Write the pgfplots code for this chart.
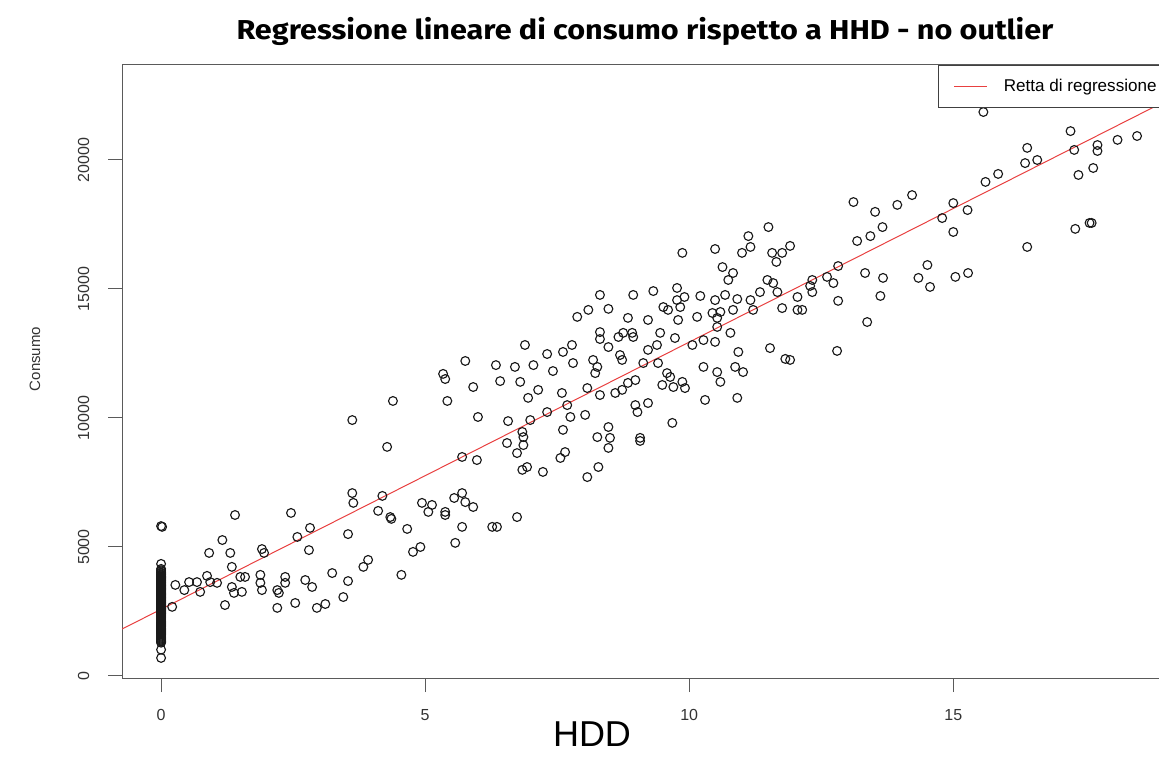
\documentclass[border=0pt]{standalone}
\usepackage{fontspec}
\setmainfont{Liberation Sans}
\newfontfamily\titlefont{Fira Sans}[FakeStretch=1.12]
\usepackage{pgfplots}
\pgfplotsset{compat=1.18}
\definecolor{axgray}{RGB}{90,90,90}
\definecolor{rline}{RGB}{232,64,64}

% HDD vs consumo
\pgfplotstableread{
x y
0 5810
0.02 5780
0 4345
0 4150
0 4100
0 4060
0 4010
0 3980
0 3940
0 3910
0 3875
0 3850
0 3825
0 3800
0 3775
0 3750
0 3725
0 3700
0 3675
0 3650
0 3625
0 3600
0 3575
0 3550
0 3525
0 3500
0 3475
0 3450
0 3425
0 3400
0 3375
0 3350
0 3325
0 3300
0 3275
0 3250
0 3225
0 3200
0 3175
0 3150
0 3125
0 3100
0 3075
0 3050
0 3025
0 3000
0 2975
0 2950
0 2925
0 2900
0 2875
0 2850
0 2825
0 2800
0 2775
0 2750
0 2725
0 2700
0 2675
0 2650
0 2625
0 2600
0 2575
0 2550
0 2525
0 2500
0 2475
0 2450
0 2425
0 2400
0 2360
0 2320
0 2280
0 2240
0 2200
0 2160
0 2120
0 2080
0 2040
0 2000
0 1960
0 1920
0 1880
0 1840
0 1800
0 1760
0 1720
0 1680
0 1640
0 1600
0 1560
0 1520
0 1480
0 1440
0 1400
0 1360
0 1330
0 1290
0 1020
0 700
0.21 2680
1.40 6240
2.46 6320
1.16 5270
0.91 4770
1.31 4770
1.91 4920
1.95 4770
2.58 5390
2.82 5740
2.80 4880
1.34 4230
0.27 3530
0.44 3330
0.53 3640
0.68 3640
0.87 3880
0.93 3640
1.06 3610
0.74 3260
1.34 3450
1.38 3220
1.53 3260
1.50 3840
1.59 3840
1.88 3920
1.88 3610
1.91 3330
2.20 3330
2.23 3220
2.35 3840
2.35 3610
2.73 3720
2.86 3450
3.24 3990
1.21 2750
2.20 2640
2.54 2830
2.95 2640
3.11 2790
6.89 12830
7.31 12480
5.76 12210
6.34 12050
6.70 11980
7.05 12050
7.42 11820
5.34 11710
5.38 11510
6.42 11430
6.80 11400
5.91 11200
7.14 11090
6.95 10780
4.39 10660
5.42 10660
6.00 10040
6.57 9880
6.99 9920
7.31 10230
3.62 9920
6.84 9460
6.86 9260
6.55 9030
6.86 8950
6.74 8640
4.28 8880
5.70 8490
5.98 8370
7.56 8450
6.84 7990
6.93 8100
7.23 7910
3.62 7090
3.64 6710
4.19 6980
4.11 6400
4.34 6160
4.36 6090
4.94 6710
5.13 6630
5.06 6360
5.38 6360
5.38 6240
5.55 6900
5.70 7090
5.76 6740
5.91 6550
4.66 5700
5.70 5780
6.27 5780
6.36 5780
6.74 6160
3.54 5500
5.57 5160
4.77 4810
4.91 5000
3.83 4230
3.92 4500
3.54 3680
4.55 3920
3.45 3060
11.50 17400
11.12 17050
11.16 16630
11.00 16400
10.49 16550
9.87 16400
11.91 16670
11.57 16400
11.76 16400
11.65 16050
10.63 15850
10.83 15620
10.74 15350
11.48 15350
11.59 15230
11.34 14880
11.67 14880
12.05 14690
12.05 14190
11.76 14260
11.16 14570
11.21 14190
8.31 14770
8.94 14770
9.32 14920
9.77 15040
9.91 14690
9.77 14570
10.21 14730
10.49 14570
10.68 14770
10.91 14610
8.09 14190
8.47 14230
7.88 13920
8.84 13880
9.51 14300
9.60 14190
9.83 14300
9.22 13800
9.79 13800
10.15 13920
10.44 14070
10.53 13880
10.59 14110
10.83 14190
8.31 13330
8.31 13060
8.66 13140
8.75 13300
8.92 13300
8.94 13140
9.45 13300
9.73 13100
8.47 12750
9.22 12640
9.39 12830
10.06 12830
10.27 13020
10.49 12950
10.53 13530
10.78 13300
10.93 12560
11.53 12710
11.82 12290
7.78 12830
7.80 12130
7.61 12560
8.18 12250
8.26 11980
8.22 11740
8.69 12440
8.73 12250
9.13 12130
9.41 12130
9.58 11740
10.27 11980
10.53 11780
10.59 11400
10.87 11980
11.02 11780
9.49 11280
9.64 11590
9.70 11200
9.87 11400
9.92 11160
8.07 11160
8.31 10890
8.60 10970
8.73 11090
8.84 11360
8.98 11470
7.59 10970
7.69 10500
7.75 10040
8.03 10120
8.98 10500
9.02 10230
9.22 10580
10.30 10700
10.91 10780
9.68 9810
7.61 9540
7.65 8680
8.26 9260
8.47 9650
8.50 9230
8.47 8840
9.07 9230
9.07 9110
8.28 8100
8.07 7710
15.57 21860
16.40 20470
16.36 19880
15.85 19460
15.61 19150
14.22 18640
13.11 18370
13.94 18260
13.52 17990
15.00 18330
15.27 18060
14.79 17750
13.66 17400
15.00 17210
13.43 17050
13.18 16860
16.40 16630
12.82 15890
12.61 15470
12.33 15350
12.29 15120
12.33 14880
12.73 15230
13.33 15620
13.67 15430
14.51 15930
14.34 15430
14.56 15080
15.04 15470
15.28 15620
12.82 14540
13.62 14730
12.14 14190
13.37 13720
12.80 12600
11.91 12250
17.22 21120
16.59 20000
17.29 20390
17.73 20580
17.73 20350
18.11 20780
18.48 20930
17.37 19420
17.65 19690
17.31 17330
17.58 17560
17.62 17560
}\hdd

\begin{document}
\begin{tikzpicture}[x=0.75pt,y=0.75pt]
% one unit = one pixel of the 1159x769 reference
\useasboundingbox (0,0) rectangle (1159,769);
\clip (0,0) rectangle (1159,769);
\begin{axis}[
    at={(91.5pt,68.25pt)}, anchor=south west,
    scale only axis,
    width=795.75pt, height=459.75pt,
    xmin=-0.74, xmax=19.35,
    ymin=-78, ymax=23682,
    xtick={0,5,10,15},
    ytick={0,5000,10000,15000,20000},
    scaled y ticks=false,
    /pgf/number format/assume math mode=true,
    /pgf/number format/1000 sep={},
    tick align=outside,
    xtick pos=bottom, ytick pos=left,
    major tick length=10.5pt,
    tick style={draw=axgray, line width=0.75pt},
    axis line style={draw=axgray, line width=0.75pt},
    ticklabel style={font=\fontsize{12}{14}\selectfont, text=black!80},
    xticklabel style={anchor=base},
    xticklabel shift=21pt,
    yticklabel style={rotate=90, anchor=base},
    yticklabel shift=14.25pt,
    legend style={at={(1,1)}, anchor=north east,
        draw=black!75, line width=0.75pt, fill=white,
        inner xsep=0pt, inner ysep=10.5pt,
        font=\fontsize{12.8}{15}\selectfont,
        nodes={inner sep=0pt}, column sep=12pt},
    legend cell align=left,
    legend image code/.code={\path (0pt,0pt); \draw[#1, draw=rline, line width=0.75pt] (11.25pt,0pt) -- (36pt,0pt);},
]
\addplot[only marks, mark=o, mark size=3.3pt,
    mark options={line width=0.85pt, draw=black!90}, forget plot] table[x=x, y=y] {\hdd};

% retta di regressione: y = 2585 + 1035.6 x
\addplot[rline, line width=0.75pt] coordinates {(-0.74,1819) (19.35,22624)};
\addlegendentry{\makebox[134pt][l]{Retta di regressione}}
\end{axis}

\node[anchor=base, font=\titlefont\bfseries\fontsize{20.5}{23}\selectfont]
    at (645,729) {Regressione lineare di consumo rispetto a HHD - no outlier};
\node[anchor=base, font=\fontsize{27}{30}\selectfont] at (592,23) {HDD};
\node[anchor=base, rotate=90, font=\fontsize{11.25}{13}\selectfont, text=black!80]
    at (40,410) {Consumo};
\end{tikzpicture}
\end{document}
